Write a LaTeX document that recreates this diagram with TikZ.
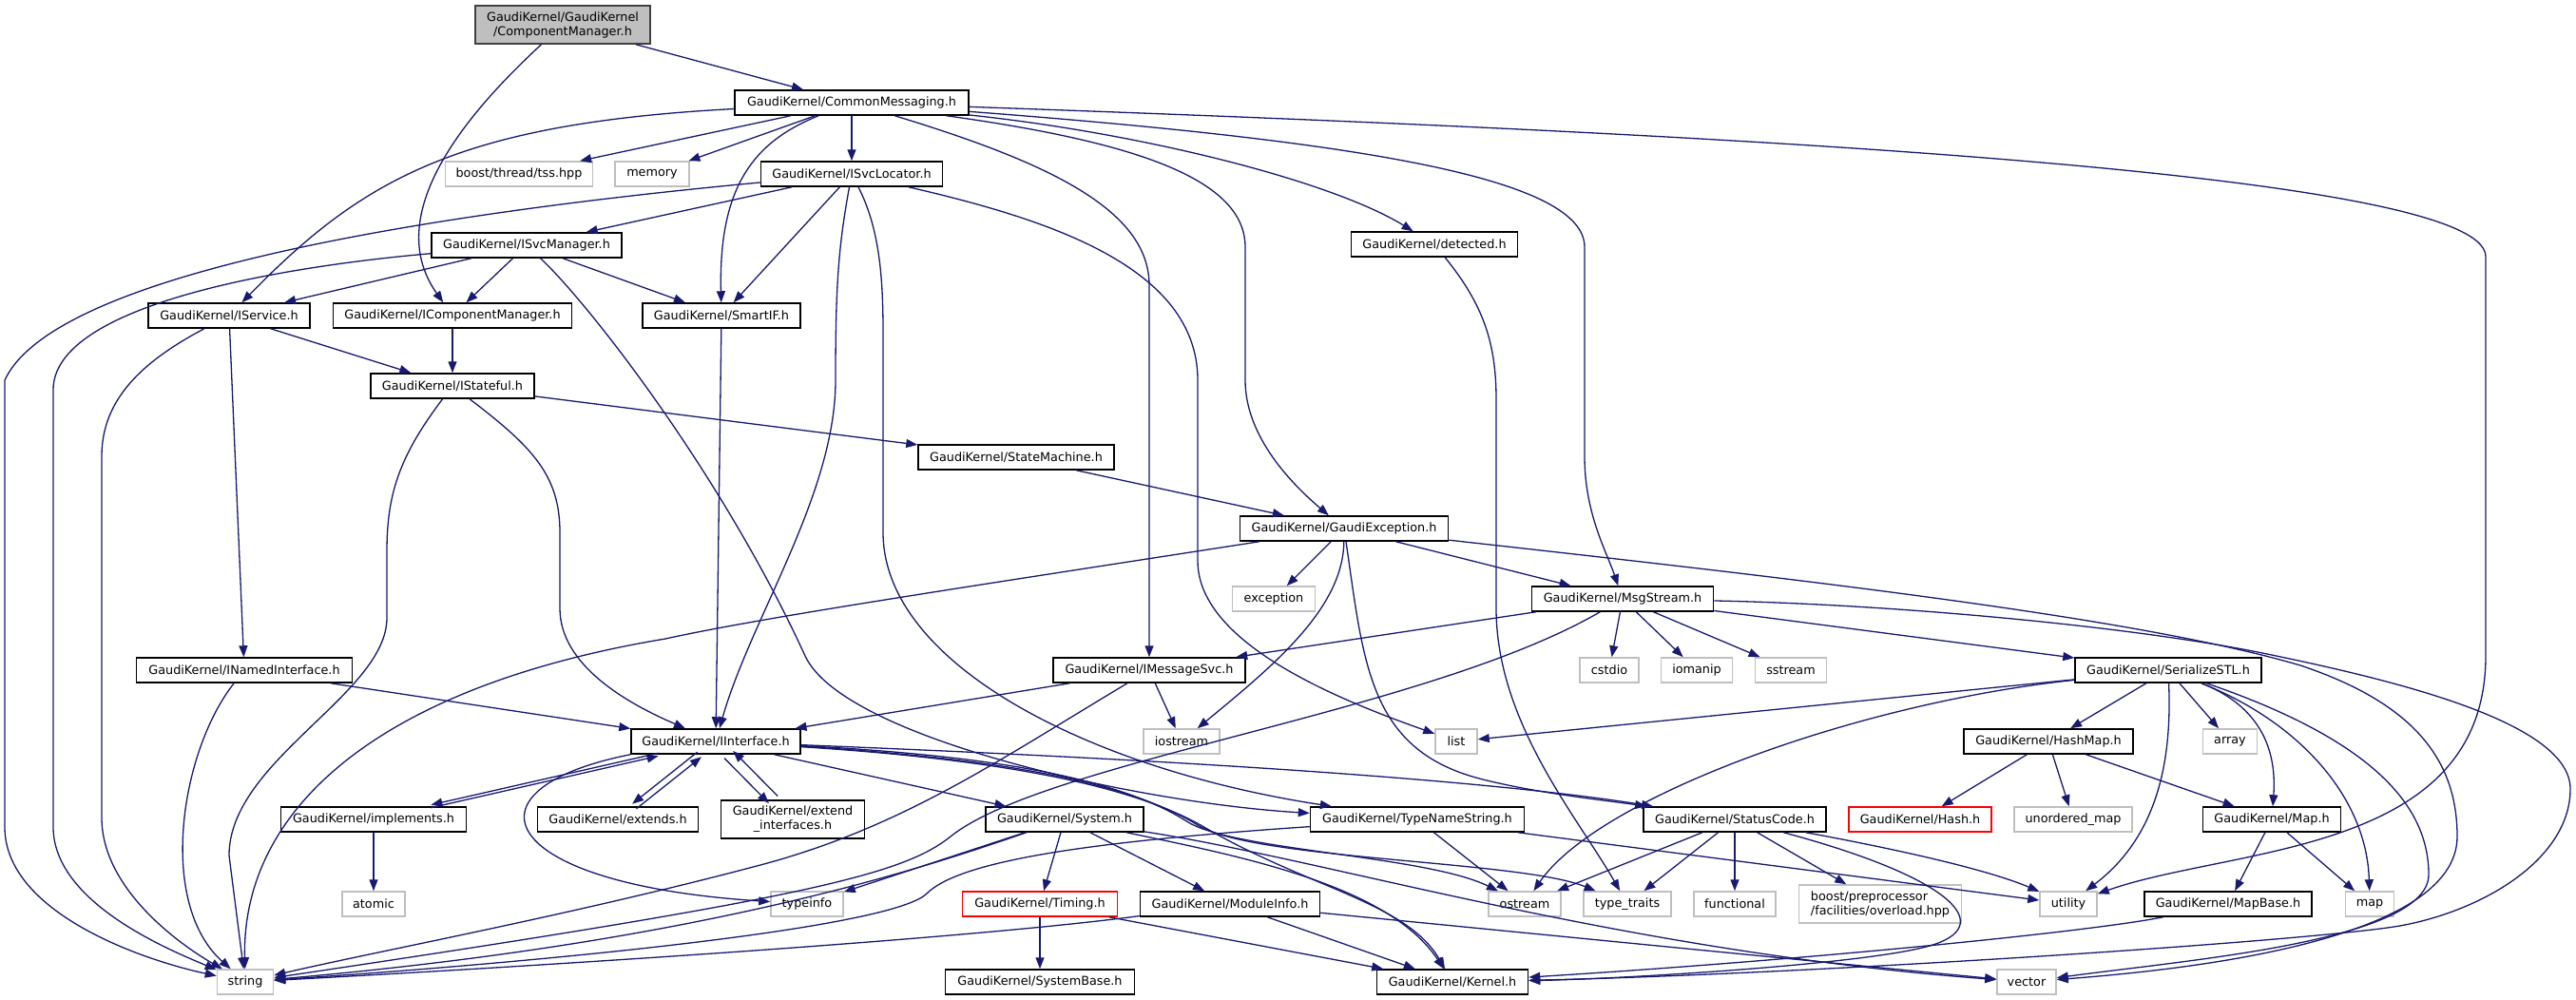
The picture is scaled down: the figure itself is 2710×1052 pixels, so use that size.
\documentclass[tikz,border=0pt]{standalone}
\usepackage{fontspec}
\setmainfont{DejaVu Sans}
\usetikzlibrary{arrows.meta}
\definecolor{edgecol}{HTML}{191970}
\definecolor{greyl}{HTML}{BFBFBF}
\definecolor{rootline}{HTML}{404040}
\definecolor{redline}{HTML}{FF0000}
\newcommand\gkfont{\fontsize{12.8pt}{15pt}\selectfont}
\tikzset{
 nd/.style={draw=black, fill=white, line width=1.5pt, minimum height=26pt, inner sep=1pt, font=\gkfont, text=black},
 ndg/.style={nd, draw=greyl},
 ndr/.style={nd, draw=redline},
 ndroot/.style={nd, fill=greyl, draw=rootline, minimum height=40pt, align=center},
 ndtwo/.style={nd, minimum height=40pt, align=center},
 conn/.style={draw=edgecol, line width=1.3pt, -{Triangle[length=12pt,width=9pt]}},
}
\begin{document}
\begin{tikzpicture}[x=1pt,y=-1pt]
\useasboundingbox (0,0) rectangle (2710,1052);
% nodes
\node[ndroot, minimum width=184pt] (root) at (592,26) {GaudiKernel/GaudiKernel\\/ComponentManager.h};
\node[nd, minimum width=246pt] (cmsg) at (896,108) {GaudiKernel/CommonMessaging.h};
\node[ndg, minimum width=155pt] (tss) at (546,183) {boost/thread/tss.hpp};
\node[ndg, minimum width=78pt] (memory) at (686,183) {memory};
\node[nd, minimum width=191pt] (isvcloc) at (896,183) {GaudiKernel/ISvcLocator.h};
\node[nd, minimum width=175pt] (detected) at (1509,257) {GaudiKernel/detected.h};
\node[nd, minimum width=200pt] (isvcmgr) at (554,258) {GaudiKernel/ISvcManager.h};
\node[nd, minimum width=170pt] (iservice) at (241,332) {GaudiKernel/IService.h};
\node[nd, minimum width=251pt] (icompmgr) at (476,332) {GaudiKernel/IComponentManager.h};
\node[nd, minimum width=166pt] (smartif) at (759,332) {GaudiKernel/SmartIF.h};
\node[nd, minimum width=172pt] (istateful) at (476,406) {GaudiKernel/IStateful.h};
\node[nd, minimum width=206pt] (statem) at (1069,481) {GaudiKernel/StateMachine.h};
\node[nd, minimum width=219pt] (gexc) at (1414,556) {GaudiKernel/GaudiException.h};
\node[ndg, minimum width=87pt] (exception) at (1340,630) {exception};
\node[nd, minimum width=191pt] (msgs) at (1707,630) {GaudiKernel/MsgStream.h};
\node[nd, minimum width=227pt] (inamed) at (257,705) {GaudiKernel/INamedInterface.h};
\node[nd, minimum width=202pt] (imsgsvc) at (1209,705) {GaudiKernel/IMessageSvc.h};
\node[ndg, minimum width=62pt] (cstdio) at (1693,705) {cstdio};
\node[ndg, minimum width=75pt] (iomanip) at (1785,705) {iomanip};
\node[ndg, minimum width=75pt] (sstream) at (1884,705) {sstream};
\node[nd, minimum width=196pt] (serial) at (2281,705) {GaudiKernel/SerializeSTL.h};
\node[nd, minimum width=178pt] (iint) at (753,780) {GaudiKernel/IInterface.h};
\node[ndg, minimum width=80pt] (iostream) at (1243,780) {iostream};
\node[ndg, minimum width=44pt] (list) at (1532,780) {list};
\node[nd, minimum width=178pt] (hashmap) at (2155,780) {GaudiKernel/HashMap.h};
\node[ndg, minimum width=57pt] (array) at (2346,780) {array};
\node[nd, minimum width=195pt] (impl) at (393,862) {GaudiKernel/implements.h};
\node[nd, minimum width=169pt] (extends) at (650,862) {GaudiKernel/extends.h};
\node[ndtwo, minimum width=151pt] (extif) at (834,862) {GaudiKernel/extend\\\_interfaces.h};
\node[nd, minimum width=166pt] (system) at (1120,862) {GaudiKernel/System.h};
\node[nd, minimum width=225pt] (tns) at (1491,862) {GaudiKernel/TypeNameString.h};
\node[nd, minimum width=192pt] (status) at (1825,862) {GaudiKernel/StatusCode.h};
\node[ndr, minimum width=150pt] (hash) at (2020,862) {GaudiKernel/Hash.h};
\node[ndg, minimum width=124pt] (unord) at (2181,862) {unordered\_map};
\node[nd, minimum width=145pt] (maph) at (2390,862) {GaudiKernel/Map.h};
\node[ndg, minimum width=66pt] (atomic) at (393,951) {atomic};
\node[ndg, minimum width=76pt] (typeinfo) at (849,951) {typeinfo};
\node[ndr, minimum width=163pt] (timing) at (1094,951) {GaudiKernel/Timing.h};
\node[nd, minimum width=189pt] (modinfo) at (1294,951) {GaudiKernel/ModuleInfo.h};
\node[ndg, minimum width=76pt] (ostream) at (1604,951) {ostream};
\node[ndg, minimum width=92pt] (ttraits) at (1712,951) {type\_traits};
\node[ndg, minimum width=86pt] (functional) at (1825,951) {functional};
\node[ndg, minimum width=171pt, minimum height=40pt, align=left] (boostpp) at (1978,951) {boost/preprocessor\\/facilities/overload.hpp};
\node[ndg, minimum width=60pt] (utility) at (2176,951) {utility};
\node[nd, minimum width=176pt] (mapbase) at (2344,951) {GaudiKernel/MapBase.h};
\node[ndg, minimum width=51pt] (map) at (2493,951) {map};
\node[ndg, minimum width=59pt] (string) at (258,1033) {string};
\node[nd, minimum width=199pt] (sysbase) at (1094,1033) {GaudiKernel/SystemBase.h};
\node[nd, minimum width=159pt] (kernel) at (1528,1033) {GaudiKernel/Kernel.h};
\node[ndg, minimum width=62pt] (vector) at (2132,1033) {vector};
% edges
\draw[conn] (root) -- (cmsg);
\draw[conn] (root) .. controls (425,180) and (425,260) .. (icompmgr);
% CommonMessaging
\draw[conn] (cmsg) .. controls (480,130) and (380,190) .. (iservice);
\draw[conn] (cmsg) -- (tss);
\draw[conn] (cmsg) -- (memory);
\draw[conn] (cmsg) -- (isvcloc);
\draw[conn] (cmsg) .. controls (790,150) and (756,200) .. (smartif);
\draw[conn] (cmsg) .. controls (1100,170) and (1209,220) .. (1209,300) -- (imsgsvc);
\draw[conn] (cmsg) .. controls (1200,150) and (1310,190) .. (1310,260) -- (1310,400) .. controls (1310,460) and (1360,510) .. (gexc);
\draw[conn] (cmsg) .. controls (1200,140) and (1400,190) .. (detected);
\draw[conn] (cmsg) .. controls (1450,150) and (1667,190) .. (1667,260) -- (1667,480) .. controls (1667,540) and (1690,580) .. (msgs);
\draw[conn] (cmsg) .. controls (1800,140) and (2615,180) .. (2615,270) -- (2615,690) .. controls (2615,900) and (2350,890) .. (utility);
% ISvcLocator
\draw[conn] (isvcloc) .. controls (500,220) and (60,280) .. (5,400) -- (5,870) .. controls (5,960) and (150,1010) .. (string);
\draw[conn] (isvcloc) -- (isvcmgr);
\draw[conn] (isvcloc) -- (smartif);
\draw[conn] (isvcloc) .. controls (882,260) and (879,300) .. (879,400) .. controls (879,520) and (790,650) .. (iint);
\draw[conn] (isvcloc) .. controls (925,240) and (929,290) .. (929,350) -- (929,560) .. controls (929,700) and (1150,810) .. (tns);
\draw[conn] (isvcloc) .. controls (1100,230) and (1260,280) .. (1260,400) -- (1260,590) .. controls (1260,680) and (1420,740) .. (list);
% ISvcManager
\draw[conn] (isvcmgr) .. controls (300,280) and (56,320) .. (56,410) -- (56,870) .. controls (56,950) and (180,1000) .. (string);
\draw[conn] (isvcmgr) -- (iservice);
\draw[conn] (isvcmgr) -- (icompmgr);
\draw[conn] (isvcmgr) -- (smartif);
\draw[conn] (isvcmgr) .. controls (620,320) and (760,500) .. (847,690) .. controls (887,777) and (1200,845) .. (tns);
% IService etc
\draw[conn] (iservice) .. controls (150,380) and (107,420) .. (107,480) -- (107,860) .. controls (107,940) and (200,1000) .. (string);
\draw[conn] (iservice) -- (inamed);
\draw[conn] (iservice) -- (istateful);
\draw[conn] (icompmgr) -- (istateful);
\draw[conn] (smartif) -- (iint);
\draw[conn] (istateful) .. controls (420,480) and (407,520) .. (407,580) -- (407,650) .. controls (407,730) and (241,800) .. (241,900) -- (string);
\draw[conn] (istateful) .. controls (560,470) and (589,500) .. (589,560) -- (589,640) .. controls (589,700) and (660,740) .. (iint);
\draw[conn] (istateful) -- (statem);
\draw[conn] (statem) -- (gexc);
\draw[conn] (inamed) .. controls (190,790) and (165,950) .. (string);
\draw[conn] (inamed) -- (iint);
\draw[conn] (detected) .. controls (1560,320) and (1574,360) .. (1574,420) -- (1574,640) .. controls (1574,760) and (1660,860) .. (ttraits);
% GaudiException
\draw[conn] (gexc) -- (exception);
\draw[conn] (gexc) .. controls (1000,620) and (800,650) .. (700,672) .. controls (400,722) and (254,850) .. (string);
\draw[conn] (gexc) .. controls (1413,640) and (1340,700) .. (iostream);
\draw[conn] (gexc) -- (msgs);
\draw[conn] (gexc) .. controls (1435,700) and (1440,790) .. (1560,820) .. controls (1620,835) and (1690,842) .. (status);
\draw[conn] (gexc) .. controls (1900,610) and (2250,650) .. (2420,700) .. controls (2540,740) and (2585,800) .. (2585,880) .. controls (2585,990) and (2300,1020) .. (vector);
% MsgStream
\draw[conn] (msgs) -- (imsgsvc);
\draw[conn] (msgs) .. controls (1500,750) and (1100,800) .. (1000,880) .. controls (950,920) and (850,945) .. (string);
\draw[conn] (msgs) -- (cstdio);
\draw[conn] (msgs) -- (iomanip);
\draw[conn] (msgs) -- (sstream);
\draw[conn] (msgs) -- (serial);
\draw[conn] (msgs) .. controls (2000,636) and (2250,660) .. (2385,688) .. controls (2520,716) and (2704,760) .. (2704,830) .. controls (2704,900) and (2620,955) .. (2530,973) .. controls (2450,989) and (1900,1025) .. (kernel);
% IMessageSvc
\draw[conn] (imsgsvc) -- (iint);
\draw[conn] (imsgsvc) -- (iostream);
\draw[conn] (imsgsvc) .. controls (1050,800) and (950,870) .. (800,910) .. controls (600,963) and (400,1000) .. (string);
% IInterface
\draw[conn, transform canvas={shift={(0pt,1.5pt)}}] (iint) -- (impl);
\draw[conn, transform canvas={shift={(0pt,-1.5pt)}}] (impl) -- (iint);
\draw[conn, transform canvas={shift={(-2.2pt,2.5pt)}}] (iint) -- (extends);
\draw[conn, transform canvas={shift={(2.2pt,-2.5pt)}}] (extends) -- (iint);
\draw[conn, transform canvas={shift={(-4.6pt,-3.8pt)}}] (iint) -- (extif);
\draw[conn, transform canvas={shift={(4.6pt,3.8pt)}}] (extif) -- (iint);
\draw[conn] (iint.south west) .. controls (480,830) and (520,930) .. (typeinfo);
\draw[conn] (iint) -- (system);
\draw[conn] (iint) .. controls (1000,790) and (1500,810) .. (status);
\draw[conn] (iint) .. controls (1050,795) and (1180,820) .. (1250,865) .. controls (1300,895) and (1500,900) .. (ostream);
\draw[conn] (iint) .. controls (1060,798) and (1190,825) .. (1260,868) .. controls (1320,905) and (1600,905) .. (ttraits);
\draw[conn] (iint) .. controls (1070,800) and (1200,830) .. (1270,872) .. controls (1380,935) and (1480,950) .. (kernel);
\draw[conn] (impl) -- (atomic);
% System
\draw[conn] (system) -- (typeinfo);
\draw[conn] (system) .. controls (980,910) and (750,990) .. (string);
\draw[conn] (system) -- (timing);
\draw[conn] (system) -- (modinfo);
\draw[conn] (system) .. controls (1300,900) and (1460,930) .. (kernel);
\draw[conn] (system) .. controls (1400,905) and (1700,1000) .. (vector);
\draw[conn] (modinfo) .. controls (1000,990) and (500,1020) .. (string);
\draw[conn] (modinfo) -- (kernel);
\draw[conn] (modinfo) -- (vector);
\draw[conn] (timing) -- (sysbase);
\draw[conn] (timing) -- (kernel);
% TypeNameString
\draw[conn] (tns) -- (ostream);
\draw[conn] (tns) .. controls (1150,885) and (1010,905) .. (975,940) .. controls (940,975) and (600,1010) .. (string);
\draw[conn] (tns) -- (utility);
% StatusCode
\draw[conn] (status) -- (ostream);
\draw[conn] (status) -- (ttraits);
\draw[conn] (status) -- (functional);
\draw[conn] (status) -- (boostpp);
\draw[conn] (status) .. controls (1950,885) and (2080,910) .. (utility);
\draw[conn] (status) .. controls (2060,925) and (2100,975) .. (2030,995) .. controls (1960,1015) and (1700,1030) .. (kernel);
% SerializeSTL
\draw[conn] (serial) -- (list);
\draw[conn] (serial) .. controls (1950,740) and (1680,840) .. (ostream);
\draw[conn] (serial) -- (hashmap);
\draw[conn] (serial) -- (array);
\draw[conn] (serial) .. controls (2285,800) and (2270,880) .. (utility);
\draw[conn] (serial) .. controls (2370,740) and (2396,780) .. (maph);
\draw[conn] (serial) .. controls (2420,760) and (2490,840) .. (map);
\draw[conn] (serial) .. controls (2500,780) and (2555,850) .. (2555,920) .. controls (2555,990) and (2300,1010) .. (vector);
% HashMap, Map
\draw[conn] (hashmap) -- (hash);
\draw[conn] (hashmap) -- (unord);
\draw[conn] (hashmap) -- (maph);
\draw[conn] (maph) -- (mapbase);
\draw[conn] (maph) -- (map);
\draw[conn] (mapbase) .. controls (2200,980) and (1900,1010) .. (kernel);
\end{tikzpicture}
\end{document}
